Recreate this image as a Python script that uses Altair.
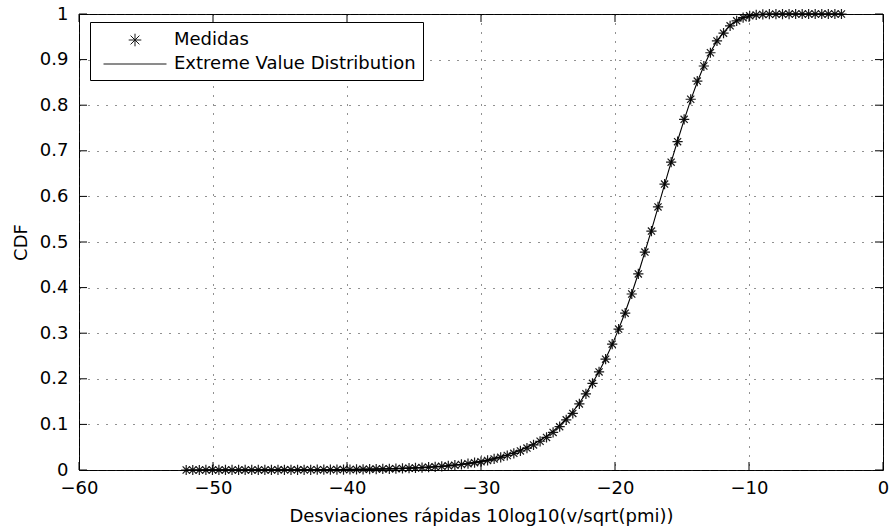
import altair as alt
import pandas as pd

# ---------------- data ----------------
x_vals = [
    -52.00, -51.51, -51.02, -50.53, -50.04, -49.56, -49.07, -48.58, -48.09, -47.60,
    -47.11, -46.62, -46.13, -45.64, -45.15, -44.67, -44.18, -43.69, -43.20, -42.71,
    -42.22, -41.73, -41.24, -40.75, -40.26, -39.78, -39.29, -38.80, -38.31, -37.82,
    -37.33, -36.84, -36.35, -35.86, -35.37, -34.89, -34.40, -33.91, -33.42, -32.93,
    -32.44, -31.95, -31.46, -30.97, -30.48, -30.00, -29.51, -29.02, -28.53, -28.04,
    -27.55, -27.06, -26.57, -26.08, -25.59, -25.11, -24.62, -24.13, -23.64, -23.15,
    -22.66, -22.17, -21.68, -21.19, -20.70, -20.21, -19.73, -19.24, -18.75, -18.26,
    -17.77, -17.28, -16.79, -16.30, -15.81, -15.33, -14.84, -14.35, -13.86, -13.37,
    -12.88, -12.39, -11.90, -11.41, -10.92, -10.44, -9.95, -9.46, -8.97, -8.48,
    -7.99, -7.50, -7.01, -6.52, -6.03, -5.55, -5.06, -4.57, -4.08, -3.59,
    -3.10,
]

cdf_medidas = [
    0.0000, 0.0000, 0.0000, 0.0001, 0.0001, 0.0001, 0.0001, 0.0001, 0.0001, 0.0001,
    0.0001, 0.0002, 0.0002, 0.0002, 0.0003, 0.0003, 0.0003, 0.0004, 0.0004, 0.0005,
    0.0006, 0.0007, 0.0008, 0.0009, 0.0010, 0.0011, 0.0013, 0.0015, 0.0018, 0.0020,
    0.0023, 0.0026, 0.0030, 0.0035, 0.0040, 0.0046, 0.0053, 0.0061, 0.0070, 0.0081,
    0.0092, 0.0105, 0.0121, 0.0139, 0.0160, 0.0183, 0.0210, 0.0242, 0.0278, 0.0318,
    0.0365, 0.0418, 0.0480, 0.0550, 0.0630, 0.0715, 0.0825, 0.0950, 0.1100, 0.1240,
    0.1450, 0.1670, 0.1900, 0.2150, 0.2430, 0.2760, 0.3090, 0.3440, 0.3860, 0.4300,
    0.4780, 0.5240, 0.5770, 0.6270, 0.6750, 0.7200, 0.7690, 0.8130, 0.8530, 0.8860,
    0.9150, 0.9410, 0.9580, 0.9740, 0.9850, 0.9920, 0.9960, 0.9980, 0.9990, 0.9995,
    0.9997, 0.9998, 0.9999, 1.0000, 1.0000, 1.0000, 1.0000, 1.0000, 1.0000, 1.0000,
    1.0000,
]

cdf_ev = [
    0.0000, 0.0000, 0.0000, 0.0001, 0.0001, 0.0001, 0.0001, 0.0001, 0.0001, 0.0001,
    0.0001, 0.0002, 0.0002, 0.0002, 0.0003, 0.0003, 0.0003, 0.0004, 0.0004, 0.0005,
    0.0006, 0.0007, 0.0008, 0.0009, 0.0011, 0.0012, 0.0014, 0.0016, 0.0018, 0.0021,
    0.0024, 0.0027, 0.0031, 0.0036, 0.0041, 0.0047, 0.0054, 0.0062, 0.0072, 0.0082,
    0.0095, 0.0109, 0.0125, 0.0143, 0.0165, 0.0189, 0.0217, 0.0250, 0.0287, 0.0329,
    0.0378, 0.0433, 0.0497, 0.0569, 0.0651, 0.0742, 0.0853, 0.0978, 0.1124, 0.1274,
    0.1470, 0.1680, 0.1910, 0.2160, 0.2440, 0.2750, 0.3090, 0.3460, 0.3870, 0.4310,
    0.4780, 0.5260, 0.5760, 0.6260, 0.6750, 0.7220, 0.7680, 0.8110, 0.8510, 0.8860,
    0.9160, 0.9410, 0.9600, 0.9750, 0.9850, 0.9920, 0.9960, 0.9982, 0.9993, 0.9998,
    0.9999, 1.0000, 1.0000, 1.0000, 1.0000, 1.0000, 1.0000, 1.0000, 1.0000, 1.0000,
    1.0000,
]

x_ticks = [-60, -50, -40, -30, -20, -10, 0]
y_ticks = [0, 0.1, 0.2, 0.3, 0.4, 0.5, 0.6, 0.7, 0.8, 0.9, 1]
series_names = ["Medidas", "Extreme Value Distribution"]
x_title = "Desviaciones rápidas 10log10(v/sqrt(pmi))"
y_title = "CDF"

# ---------------- style ----------------
W, H = 804, 456
FONT = "DejaVu Sans"
FS = 18
TICK = 8
ASTERISK = "M-0.6,0L0.6,0M0,-0.6L0,0.6M-0.42,-0.42L0.42,0.42M-0.42,0.42L0.42,-0.42"
LINE_SYM = "M-3,0L3,0"

meas = pd.DataFrame({"x": x_vals, "y": cdf_medidas, "series": series_names[0]})
fit = pd.DataFrame({"x": x_vals, "y": cdf_ev, "series": series_names[1]})
xt = pd.DataFrame({"x": x_ticks})
yt = pd.DataFrame({"y": y_ticks})

xscale = alt.Scale(domain=[-60, 0], nice=False, zero=False)
yscale = alt.Scale(domain=[0, 1], nice=False, zero=False)

xaxis = alt.Axis(
    values=x_ticks, format="d", title=x_title, grid=True, gridDash=[1, 8],
    gridColor="#222", gridWidth=1, ticks=False, domain=False, labelPadding=9,
    labelFont=FONT, labelFontSize=FS, labelColor="black", labelFlush=False,
    labelOverlap=False, titleFont=FONT, titleFontSize=FS, titleFontWeight="normal",
    titleColor="black", titleY=51, titleBaseline="alphabetic",
)
yaxis = alt.Axis(
    values=y_ticks, format="~g", title=y_title, grid=True, gridDash=[1, 8],
    gridColor="#222", gridWidth=1, ticks=False, domain=False, labelPadding=11,
    labelFont=FONT, labelFontSize=FS, labelColor="black", labelFlush=False,
    labelOverlap=False, titleFont=FONT, titleFontSize=FS, titleFontWeight="normal",
    titleColor="black", titleX=-53, titleBaseline="alphabetic",
)

X = alt.X("x:Q", scale=xscale, axis=xaxis)
Y = alt.Y("y:Q", scale=yscale, axis=yaxis)

line = alt.Chart(fit).mark_line(color="black", strokeWidth=1.1).encode(x=X, y=Y)

points = alt.Chart(meas).mark_point(filled=False, size=290, strokeWidth=1.2, color="black", opacity=0.9).encode(
    x=X, y=Y,
    shape=alt.Shape(
        "series:N",
        scale=alt.Scale(domain=series_names, range=[ASTERISK, LINE_SYM]),
        legend=alt.Legend(
            title=None, orient="none", legendX=11, legendY=8, direction="vertical",
            fillColor="white", strokeColor="black", padding=7, rowPadding=4,
            labelFont=FONT, labelFontSize=FS, labelColor="black", labelLimit=400,
            labelOffset=28, symbolOffset=27, symbolSize=441,
            symbolStrokeColor="black", symbolStrokeWidth=1,
            symbolFillColor="transparent",
        ),
    ),
)

tick_bottom = alt.Chart(xt).mark_rule(color="black", strokeWidth=1).encode(
    x=X, y=alt.value(H), y2=alt.value(H - TICK))
tick_top = alt.Chart(xt).mark_rule(color="black", strokeWidth=1).encode(
    x=X, y=alt.value(0), y2=alt.value(TICK))
tick_left = alt.Chart(yt).mark_rule(color="black", strokeWidth=1).encode(
    y=Y, x=alt.value(0), x2=alt.value(TICK))
tick_right = alt.Chart(yt).mark_rule(color="black", strokeWidth=1).encode(
    y=Y, x=alt.value(W), x2=alt.value(W - TICK))

chart = alt.layer(line, points, tick_bottom, tick_top, tick_left, tick_right).properties(
    width=W, height=H,
    autosize=alt.AutoSizeParams(type="none"),
    padding={"left": 79, "top": 14, "right": 8, "bottom": 62},
    background="white",
).configure_view(stroke="black", strokeWidth=1)

chart.save("out.html", embed_options={"renderer": "svg", "actions": False})
